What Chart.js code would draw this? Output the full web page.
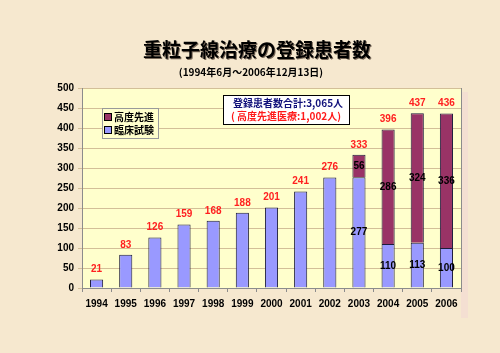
<!DOCTYPE html>
<html>
<head>
<meta charset="utf-8">
<script src="https://cdn.jsdelivr.net/npm/chart.js@4.4.0/dist/chart.umd.min.js"></script>
<style>
  html, body { margin: 0; padding: 0; background: #f6e8cf; }
  #wrap { width: 500px; height: 353px; position: relative; }
</style>
</head>
<body>
<div id="wrap"><canvas id="chart" width="500" height="353"></canvas></div>
<script>
// Data
const years = ['1994', '1995', '1996', '1997', '1998', '1999', '2000', '2001', '2002', '2003', '2004', '2005', '2006'];
const clinicalTrial = [21, 83, 126, 159, 168, 188, 201, 241, 276, 277, 110, 113, 100];
const advancedCare = [0, 0, 0, 0, 0, 0, 0, 0, 0, 56, 286, 324, 336];
const totals = [21, 83, 126, 159, 168, 188, 201, 241, 276, 333, 396, 437, 436];
const yTicks = [0, 50, 100, 150, 200, 250, 300, 350, 400, 450, 500];

const BLUE = '#9999ff';
const MAROON = '#993366';
const FONT = '"Liberation Sans", Arial, sans-serif';
const JP = '"Noto Sans CJK JP", sans-serif';

// Page background, plot background, titles, legend and note box
const decorPlugin = {
    id: 'decor',
    beforeDraw(chart) {
        const { ctx, chartArea: a } = chart;
        ctx.save();
        ctx.fillStyle = '#f6e8cf';
        ctx.fillRect(0, 0, chart.width, chart.height);
        // soft shadow on the right
        ctx.fillStyle = '#f4dfd2';
        ctx.fillRect(a.right, a.top + 4, 7, a.bottom - a.top + 26);
        ctx.fillStyle = '#ffffcc';
        ctx.fillRect(a.left, a.top, a.right - a.left, a.bottom - a.top);
        ctx.strokeStyle = '#8c8c8c';
        ctx.lineWidth = 1;
        ctx.strokeRect(a.left + 0.5, a.top + 0.5, a.right - a.left, a.bottom - a.top);
        ctx.restore();
    },
    afterDraw(chart) {
        const { ctx } = chart;
        ctx.save();
        // titles
        ctx.textAlign = 'center';
        ctx.textBaseline = 'middle';
        ctx.fillStyle = '#7a6a5a';
        ctx.font = 'bold 19px ' + JP;
        ctx.fillText('重粒子線治療の登録患者数', 258, 51);
        ctx.fillStyle = '#000';
        ctx.fillText('重粒子線治療の登録患者数', 257, 50);
        ctx.font = 'bold 10px ' + JP;
        ctx.fillText('(1994年6月～2006年12月13日)', 251, 72);

        // legend
        ctx.fillStyle = '#ffffcc';
        ctx.fillRect(102, 108, 56, 30);
        ctx.strokeStyle = '#9a9a9a';
        ctx.strokeRect(102.5, 108.5, 56, 30);
        const items = [[MAROON, '高度先進', 117], [BLUE, '臨床試験', 130]];
        ctx.textAlign = 'left';
        ctx.font = 'bold 10px ' + JP;
        items.forEach(([c, t, y]) => {
            ctx.fillStyle = c;
            ctx.fillRect(105, y - 3, 6, 6);
            ctx.strokeStyle = '#000';
            ctx.strokeRect(104.5, y - 3.5, 7, 7);
            ctx.fillStyle = '#000';
            ctx.fillText(t, 114, y);
        });

        // note box
        ctx.fillStyle = '#ffffff';
        ctx.fillRect(223, 95, 126, 29);
        ctx.strokeStyle = '#000';
        ctx.strokeRect(223.5, 95.5, 126, 29);
        ctx.textAlign = 'center';
        ctx.fillStyle = '#10107a';
        ctx.fillText('登録患者数合計:3,065人', 288, 103);
        ctx.fillStyle = '#ff1a1a';
        ctx.fillText('( 高度先進医療:1,002人)', 286, 116);
        ctx.restore();
    }
};

// Value labels: red totals above, black segment values inside
const labelPlugin = {
    id: 'labels',
    afterDatasetsDraw(chart) {
        const { ctx } = chart;
        const metaBlue = chart.getDatasetMeta(0);
        const yScale = chart.scales.y;
        ctx.save();
        ctx.textAlign = 'center';
        ctx.textBaseline = 'middle';
        ctx.font = 'bold 10px ' + FONT;
        years.forEach((yr, i) => {
            const x = metaBlue.data[i].x;
            ctx.fillStyle = '#ff2020';
            ctx.fillText(String(totals[i]), x, yScale.getPixelForValue(totals[i]) - 10);
            if (advancedCare[i] > 0) {
                ctx.fillStyle = '#000';
                const b = clinicalTrial[i];
                ctx.fillText(String(b), x, yScale.getPixelForValue(b / 2));
                const r = advancedCare[i];
                ctx.fillText(String(r), x, yScale.getPixelForValue(b + r / 2));
            }
        });
        ctx.restore();
    }
};

new Chart(document.getElementById('chart'), {
    type: 'bar',
    data: {
        labels: years,
        datasets: [
            {
                label: '臨床試験',
                data: clinicalTrial,
                backgroundColor: BLUE,
                borderColor: '#1c1c3c',
                borderWidth: 1,
                barPercentage: 0.45,
                categoryPercentage: 1
            },
            {
                label: '高度先進',
                data: advancedCare,
                backgroundColor: MAROON,
                borderColor: '#1c1c3c',
                borderWidth: 1,
                barPercentage: 0.45,
                categoryPercentage: 1
            }
        ]
    },
    options: {
        responsive: false,
        animation: false,
        layout: { padding: { left: 0, top: 88, right: 39, bottom: 37 } },
        plugins: {
            legend: { display: false },
            tooltip: { enabled: false },
            title: { display: false }
        },
        scales: {
            x: {
                stacked: true,
                grid: { drawOnChartArea: false, tickLength: 4, color: '#8c8c8c', offset: true },
                border: { color: '#8c8c8c' },
                ticks: { color: '#000', font: { family: FONT, size: 10, weight: 'bold' }, padding: 6 },
                afterFit(scale) { scale.height = 28; }
            },
            y: {
                stacked: true,
                min: 0,
                max: 500,
                afterBuildTicks(scale) { scale.ticks = yTicks.map(v => ({ value: v })); },
                grid: { color: '#d3bf98', tickLength: 4 },
                border: { color: '#8c8c8c' },
                ticks: { color: '#000', font: { family: FONT, size: 10, weight: 'bold' }, padding: 4 },
                afterFit(scale) { scale.width = 82; }
            }
        }
    },
    plugins: [decorPlugin, labelPlugin]
});
</script>
</body>
</html>
